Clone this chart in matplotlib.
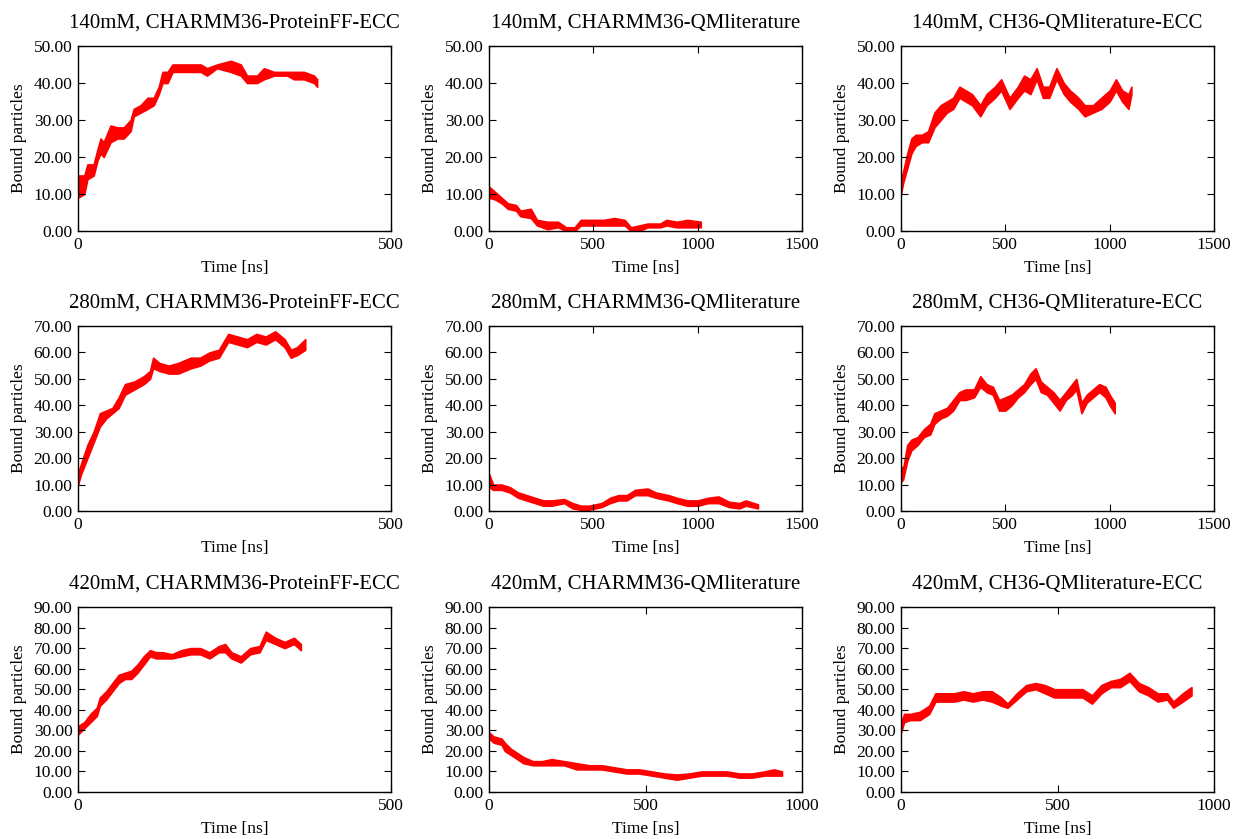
import matplotlib
matplotlib.use("Agg")
import matplotlib.pyplot as plt
from matplotlib.ticker import FormatStrFormatter, MultipleLocator

plt.rcParams['font.family'] = ['Liberation Serif', 'DejaVu Serif']

# -------------------------------
# Data (time in ns, lower / upper edge of the noisy trace)
# -------------------------------

# row 1: 140mM
t_140_ff = [0, 10, 15, 25, 31, 36, 41, 52, 63, 73, 84, 89, 100, 111, 121, 129, 135, 143, 151, 164,
            180, 196, 206, 222, 244, 260, 270, 286, 297, 313, 334, 345, 361, 377, 382]
lo_140_ff = [9, 10, 14, 15, 19, 21, 20, 24, 25, 25, 27, 31, 32, 33, 34, 37, 40, 40, 43, 43,
             43, 43, 42, 44, 43, 42, 40, 40, 41, 42, 42, 41, 41, 40, 39]
hi_140_ff = [15, 15, 18, 18, 22, 25, 24, 28.5, 28, 28, 30, 33, 34, 36, 36, 39, 43, 43, 45, 45,
             45, 45, 44, 45, 46, 45, 42, 42, 44, 43, 43, 43, 43, 42, 41]

t_140_qm = [0, 30, 60, 90, 130, 150, 200, 230, 280, 330, 370, 410, 440, 500, 550, 600, 650, 680,
            720, 760, 820, 850, 900, 950, 1015]
lo_140_qm = [9, 8.5, 7.5, 6, 5.5, 4, 3.5, 1.5, 0.5, 1, 0, 0, 1.5, 1.5, 1.5, 1.5, 1.5, 0,
             0, 1, 1, 1.5, 1, 1, 1]
hi_140_qm = [12, 10.5, 9, 7.5, 7, 5.5, 6, 3, 2.5, 2.5, 1, 1, 3, 3, 3, 3.5, 3, 1,
             1.5, 2, 2, 3, 2.5, 3, 2.5]

t_140_ecc = [0, 10, 30, 50, 70, 100, 130, 160, 190, 220, 250, 280, 310, 340, 380, 410, 450, 480,
             520, 560, 590, 620, 650, 680, 710, 745, 780, 810, 850, 880, 920, 960, 1000, 1030,
             1060, 1090, 1104]
lo_140_ecc = [10, 13, 17, 21, 23, 24, 24, 28, 30, 32, 33, 36, 35, 34, 31, 34, 36, 38,
              33, 36, 38, 37, 41, 36, 36, 41, 37, 35, 33, 31, 32, 33, 35, 38,
              35, 33, 37]
hi_140_ecc = [14, 16, 21, 25, 26, 26, 27, 32, 34, 35, 36, 39, 38, 37, 34, 37, 39, 41,
              36, 39, 42, 41, 44, 39, 39, 44, 40, 38, 36, 34, 34, 36, 38, 41,
              38, 37, 39]

# row 2: 280mM
t_280_ff = [0, 5, 15, 25, 35, 45, 55, 65, 75, 90, 105, 115, 120, 130, 145, 160, 180, 195, 210,
            225, 240, 255, 270, 285, 300, 315, 330, 340, 350, 363]
lo_280_ff = [10, 14, 20, 26, 32, 35, 37, 39, 44, 46, 48, 50, 54, 53, 52, 52, 54, 55, 57,
             58, 64, 63, 62, 64, 63, 65, 62, 58, 59, 61]
hi_280_ff = [14, 18, 25, 30, 37, 38, 39, 43, 48, 49, 51, 53, 58, 56, 55, 56, 58, 58, 60,
             61, 67, 66, 65, 67, 66, 68, 65, 61, 62, 65]

t_280_qm = [0, 20, 60, 100, 140, 180, 220, 260, 300, 360, 400, 440, 480, 540, 580, 620, 660,
            700, 760, 800, 860, 900, 950, 1000, 1050, 1100, 1150, 1200, 1230, 1289]
lo_280_qm = [9, 8, 8, 7, 5, 4, 3, 2, 2, 3, 1, 0.5, 0.5, 1.5, 3, 4, 4,
             6, 6, 5, 4, 3, 2, 2, 3, 3, 1.5, 1, 2, 1]
hi_280_qm = [14, 10, 10, 9, 7, 6, 5, 4, 4, 4.5, 3, 2, 2, 3, 5, 6, 6,
             8, 8.5, 7, 6, 5, 4, 4, 5, 5.5, 3.5, 3, 4, 2.5]

t_280_ecc = [0, 10, 30, 50, 80, 110, 140, 160, 190, 220, 250, 280, 310, 350, 380, 410, 440, 470,
             500, 530, 560, 590, 620, 645, 670, 700, 730, 760, 790, 820, 840, 865, 890, 920,
             950, 980, 1000, 1024]
lo_280_ecc = [11, 12, 19, 23, 25, 28, 29, 33, 35, 36, 38, 42, 42, 43, 47, 45, 44, 38,
              38, 40, 43, 45, 48, 50, 45, 44, 41, 38, 42, 44, 46, 37, 41, 43,
              45, 43, 40, 37]
hi_280_ecc = [17, 16, 25, 27, 28, 31, 33, 37, 38, 39, 42, 45, 46, 46, 51, 48, 47, 42,
              43, 44, 46, 48, 52, 54, 49, 47, 45, 42, 45, 48, 50, 41, 44, 46,
              48, 47, 44, 41]

# row 3: 420mM
t_420_ff = [0, 10, 20, 30, 35, 45, 55, 65, 75, 85, 95, 105, 115, 125, 135, 150, 165, 180, 195,
            210, 225, 235, 245, 260, 275, 290, 300, 315, 330, 345, 356]
lo_420_ff = [28, 31, 34, 37, 42, 45, 49, 53, 55, 55, 58, 62, 66, 65, 65, 65, 66, 67, 67,
             65, 68, 68, 65, 63, 67, 68, 74, 72, 70, 72, 69]
hi_420_ff = [32, 34, 38, 41, 46, 49, 53, 57, 58, 59, 62, 66, 69, 68, 68, 67, 69, 70, 70,
             68, 71, 72, 68, 66, 70, 71, 78, 75, 73, 75, 72]

t_420_qm = [0, 15, 40, 50, 70, 90, 110, 140, 170, 200, 240, 280, 320, 360, 400, 440, 480, 520,
            560, 600, 640, 680, 720, 760, 800, 840, 880, 910, 936]
lo_420_qm = [26, 24, 23, 20, 18, 16, 14, 13, 13, 13, 13, 11, 11, 11, 10, 9, 9, 8,
             7, 6, 7, 8, 8, 8, 7, 7, 8, 8, 8]
hi_420_qm = [29, 27, 26, 24, 21, 19, 17, 15, 15, 16, 15, 14, 13, 13, 12, 11, 11, 10,
             9, 8.5, 9, 10, 10, 10, 9, 9, 10, 11, 10]

t_420_ecc = [0, 10, 30, 60, 90, 110, 140, 170, 200, 230, 260, 290, 320, 340, 370, 400, 430, 460,
             490, 520, 550, 580, 610, 640, 670, 700, 730, 760, 790, 820, 850, 870, 900, 928]
lo_420_ecc = [29, 34, 35, 35, 38, 44, 44, 44, 45, 44, 45, 44, 42, 41, 45, 49, 50, 48,
              46, 46, 46, 46, 43, 48, 51, 51, 54, 49, 47, 44, 45, 41, 44, 47]
hi_420_ecc = [34, 38, 38, 39, 42, 48, 48, 48, 49, 48, 49, 49, 46, 43, 48, 52, 53, 52,
              50, 50, 50, 50, 47, 52, 54, 55, 58, 53, 51, 48, 48, 44, 48, 51]

titles = [
    ["140mM, CHARMM36-ProteinFF-ECC", "140mM, CHARMM36-QMliterature", "140mM, CH36-QMliterature-ECC"],
    ["280mM, CHARMM36-ProteinFF-ECC", "280mM, CHARMM36-QMliterature", "280mM, CH36-QMliterature-ECC"],
    ["420mM, CHARMM36-ProteinFF-ECC", "420mM, CHARMM36-QMliterature", "420mM, CH36-QMliterature-ECC"],
]
series = [
    [(t_140_ff, lo_140_ff, hi_140_ff), (t_140_qm, lo_140_qm, hi_140_qm), (t_140_ecc, lo_140_ecc, hi_140_ecc)],
    [(t_280_ff, lo_280_ff, hi_280_ff), (t_280_qm, lo_280_qm, hi_280_qm), (t_280_ecc, lo_280_ecc, hi_280_ecc)],
    [(t_420_ff, lo_420_ff, hi_420_ff), (t_420_qm, lo_420_qm, hi_420_qm), (t_420_ecc, lo_420_ecc, hi_420_ecc)],
]
row_ymax = [50, 70, 90]
xmax = [[500, 1500, 1500], [500, 1500, 1500], [500, 1000, 1000]]

# -------------------------------
# Layout (pixels of a 1236x839 figure)
# -------------------------------
W, H = 1236, 839
col_left = [78, 489, 901]
row_top = [46, 326, 607]
ax_w, ax_h = 313, 185

fig = plt.figure(figsize=(W / 100, H / 100), dpi=100)

for r in range(3):
    for c in range(3):
        ax = fig.add_axes([col_left[c] / W, 1 - (row_top[r] + ax_h) / H, ax_w / W, ax_h / H])
        t, lo, hi = series[r][c]
        ax.fill_between(t, lo, hi, color='red', linewidth=1.2, edgecolor='red')
        ax.set_xlim(0, xmax[r][c])
        ax.set_ylim(0, row_ymax[r])
        ax.xaxis.set_major_locator(MultipleLocator(500))
        ax.yaxis.set_major_locator(MultipleLocator(10))
        ax.yaxis.set_major_formatter(FormatStrFormatter('%.2f'))
        ax.tick_params(direction='in', top=True, right=True, length=5, width=0.8,
                       labelsize=12.5, pad=4)
        for s in ax.spines.values():
            s.set_linewidth(1.0)
        ax.set_title(titles[r][c], fontsize=15, pad=13)
        ax.set_xlabel("Time [ns]", fontsize=12.5, labelpad=5.5)
        ax.set_ylabel("Bound particles", fontsize=12.5, labelpad=4.5)

plt.savefig("out.png", dpi=100)
